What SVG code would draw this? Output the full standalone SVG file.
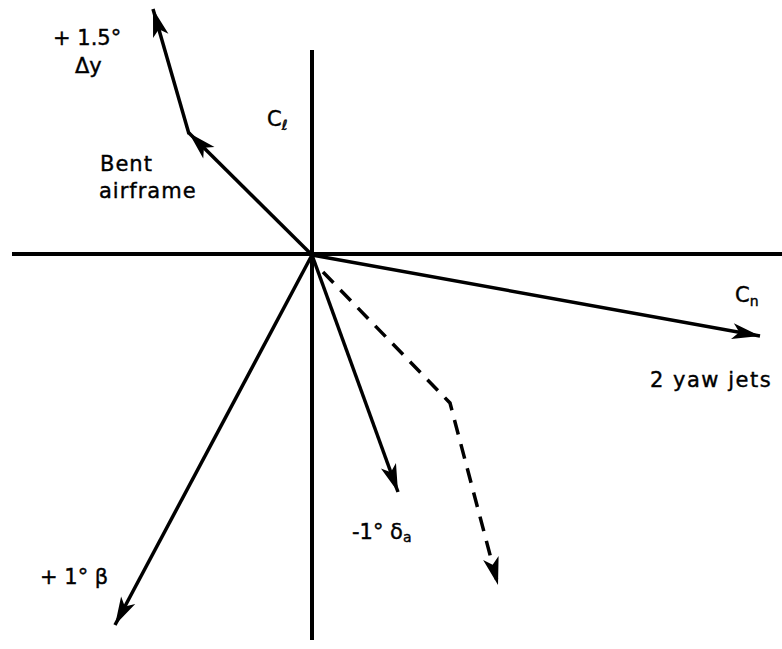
<svg xmlns="http://www.w3.org/2000/svg" width="782" height="649" viewBox="0 0 782 649">
  <style>
    .ax { stroke: #000; stroke-width: 4; fill: none; }
    .ar { stroke: #000; stroke-width: 3.5; fill: none; }
    .ds { stroke: #000; stroke-width: 3.5; fill: none; stroke-dasharray: 15 10; }
    .t { font-family: "DejaVu Sans", "Liberation Sans", sans-serif; font-size: 21px; fill: #000; stroke: #000; stroke-width: 0.4; }
    .sub { font-size: 14px; }
  </style>
  <defs>
    <marker id="ah" viewBox="-30 -9 32 18" refX="0" refY="0" markerWidth="32" markerHeight="18" markerUnits="userSpaceOnUse" orient="auto">
      <path d="M0,0 L-28,-8 L-21,0 L-28,8 Z" fill="#000"/>
    </marker>
  </defs>
  <rect width="782" height="649" fill="#fff"/>

  <g id="connectors">
    <line id="axis-h" class="ax" x1="12" y1="254" x2="782" y2="254"/>
    <line id="axis-v" class="ax" x1="312" y1="50" x2="312" y2="640"/>
    <line id="arrow-bent" class="ar" x1="312" y1="255" x2="189" y2="133" marker-end="url(#ah)"/>
    <line id="arrow-dy" class="ar" x1="189" y1="134" x2="153" y2="9" marker-end="url(#ah)"/>
    <line id="arrow-yaw" class="ar" x1="312" y1="255" x2="760" y2="336" marker-end="url(#ah)"/>
    <line id="arrow-da" class="ar" x1="312" y1="255" x2="398" y2="492" marker-end="url(#ah)"/>
    <polyline id="arrow-dashed" class="ds" points="323,272 450,403 498,585" marker-end="url(#ah)"/>
    <line id="arrow-beta" class="ar" x1="312" y1="255" x2="115" y2="625" marker-end="url(#ah)"/>
  </g>

  <g id="label-dy">
    <text class="t" x="53" y="45">+ 1.5°</text>
    <text class="t" x="75" y="73">Δy</text>
  </g>
  <g id="label-bent">
    <text class="t" x="100" y="171" letter-spacing="1">Bent</text>
    <text class="t" x="99" y="198" letter-spacing="1">airframe</text>
  </g>
  <g id="label-cl">
    <text class="t" x="267" y="126">C<tspan class="sub" dy="4">ℓ</tspan></text>
  </g>
  <g id="label-cn">
    <text class="t" x="735" y="302">C<tspan class="sub" dy="4">n</tspan></text>
  </g>
  <g id="label-yaw">
    <text class="t" x="650" y="387" letter-spacing="1.5">2 yaw jets</text>
  </g>
  <g id="label-da">
    <text class="t" x="352" y="539">-1° δ<tspan class="sub" dy="3">a</tspan></text>
  </g>
  <g id="label-beta">
    <text class="t" x="40" y="584">+ 1° β</text>
  </g>
</svg>
